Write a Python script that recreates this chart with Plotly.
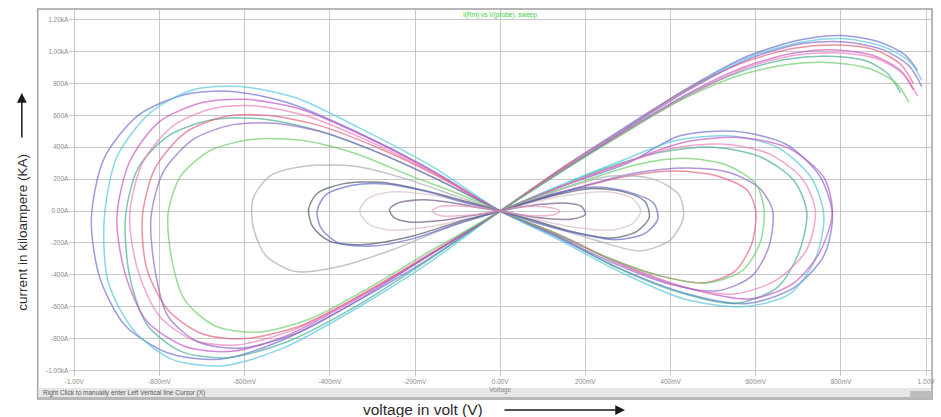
import plotly.graph_objects as go

# ---- measured traces: voltage (V) and current (kA) ----
# each large trace: upper-right arm -> origin -> left lobe -> origin -> right lobe
blue_v = [0.98, 0.95, 0.89, 0.80, 0.70, 0.58, 0.44, 0.29, 0.14, 0,
          -0.18, -0.36, -0.52, -0.66, -0.78, -0.88, -0.94, -0.96, -0.93, -0.85, -0.74, -0.63, -0.50, -0.34, -0.17, 0,
          0.13, 0.28, 0.44, 0.58, 0.69, 0.76, 0.78, 0.75, 0.67, 0.55, 0.42, 0.30, 0.14, 0]
blue_i = [0.88, 0.98, 1.06, 1.10, 1.07, 0.97, 0.77, 0.52, 0.26, 0,
          -0.32, -0.60, -0.82, -0.93, -0.89, -0.72, -0.42, -0.05, 0.33, 0.60, 0.73, 0.75, 0.68, 0.50, 0.27, 0,
          -0.16, -0.36, -0.52, -0.58, -0.48, -0.28, -0.02, 0.22, 0.42, 0.50, 0.47, 0.30, 0.15, 0]

cyan_v = [0.99, 0.96, 0.90, 0.81, 0.71, 0.59, 0.45, 0.30, 0.15, 0,
          -0.17, -0.35, -0.51, -0.65, -0.77, -0.86, -0.92, -0.93, -0.90, -0.82, -0.72, -0.61, -0.48, -0.33, -0.16, 0,
          0.13, 0.28, 0.43, 0.57, 0.68, 0.74, 0.76, 0.73, 0.65, 0.54, 0.41, 0.28, 0.13, 0]
cyan_i = [0.82, 0.94, 1.03, 1.08, 1.06, 0.97, 0.78, 0.53, 0.27, 0,
          -0.33, -0.63, -0.86, -0.97, -0.93, -0.75, -0.45, -0.06, 0.34, 0.62, 0.76, 0.78, 0.71, 0.52, 0.28, 0,
          -0.17, -0.38, -0.55, -0.60, -0.52, -0.30, -0.03, 0.21, 0.40, 0.47, 0.44, 0.31, 0.15, 0]

magenta_v = [0.97, 0.94, 0.88, 0.79, 0.69, 0.57, 0.43, 0.29, 0.14, 0,
             -0.18, -0.35, -0.50, -0.63, -0.74, -0.83, -0.88, -0.90, -0.87, -0.80, -0.70, -0.60, -0.47, -0.32, -0.16, 0,
             0.14, 0.29, 0.45, 0.59, 0.69, 0.75, 0.78, 0.76, 0.68, 0.57, 0.43, 0.29, 0.14, 0]
magenta_i = [0.76, 0.88, 0.97, 1.01, 0.99, 0.90, 0.72, 0.49, 0.25, 0,
             -0.30, -0.57, -0.78, -0.88, -0.85, -0.69, -0.40, -0.04, 0.31, 0.56, 0.68, 0.70, 0.64, 0.47, 0.25, 0,
             -0.15, -0.34, -0.49, -0.55, -0.45, -0.26, -0.01, 0.21, 0.39, 0.46, 0.43, 0.30, 0.15, 0]

pink_v = [0.98, 0.95, 0.89, 0.80, 0.70, 0.58, 0.44, 0.29, 0.14, 0,
          -0.18, -0.34, -0.49, -0.62, -0.72, -0.80, -0.85, -0.87, -0.84, -0.77, -0.68, -0.58, -0.46, -0.31, -0.15, 0,
          0.13, 0.27, 0.42, 0.55, 0.65, 0.72, 0.74, 0.71, 0.63, 0.52, 0.40, 0.27, 0.13, 0]
pink_i = [0.72, 0.85, 0.95, 0.99, 0.98, 0.90, 0.72, 0.49, 0.25, 0,
          -0.29, -0.55, -0.75, -0.84, -0.81, -0.66, -0.38, -0.03, 0.30, 0.53, 0.64, 0.66, 0.60, 0.44, 0.23, 0,
          -0.14, -0.32, -0.47, -0.52, -0.43, -0.24, 0.0, 0.20, 0.36, 0.42, 0.39, 0.28, 0.14, 0]

green_v = [0.96, 0.93, 0.87, 0.78, 0.68, 0.56, 0.42, 0.28, 0.14, 0,
           -0.17, -0.32, -0.45, -0.57, -0.67, -0.74, -0.77, -0.78, -0.75, -0.68, -0.58, -0.46, -0.34, -0.21, -0.10, 0,
           0.12, 0.25, 0.38, 0.49, 0.57, 0.61, 0.62, 0.60, 0.53, 0.43, 0.32, 0.21, 0.10, 0]
green_i = [0.68, 0.80, 0.89, 0.93, 0.92, 0.85, 0.69, 0.47, 0.24, 0,
           -0.26, -0.50, -0.68, -0.76, -0.72, -0.56, -0.32, -0.02, 0.22, 0.38, 0.45, 0.44, 0.36, 0.22, 0.11, 0,
           -0.13, -0.29, -0.41, -0.45, -0.37, -0.20, 0.0, 0.17, 0.29, 0.33, 0.29, 0.20, 0.10, 0]

red_v = [0.97, 0.94, 0.88, 0.79, 0.69, 0.57, 0.43, 0.29, 0.14, 0,
         -0.17, -0.33, -0.47, -0.60, -0.70, -0.78, -0.83, -0.84, -0.81, -0.74, -0.65, -0.55, -0.43, -0.29, -0.14, 0,
         0.12, 0.25, 0.38, 0.48, 0.55, 0.59, 0.60, 0.58, 0.51, 0.41, 0.30, 0.19, 0.09, 0]
red_i = [0.80, 0.92, 1.01, 1.04, 1.02, 0.93, 0.75, 0.51, 0.26, 0,
         -0.28, -0.53, -0.72, -0.80, -0.77, -0.62, -0.36, -0.03, 0.27, 0.49, 0.59, 0.60, 0.54, 0.40, 0.21, 0,
         -0.13, -0.29, -0.41, -0.45, -0.38, -0.21, 0.0, 0.13, 0.22, 0.25, 0.22, 0.15, 0.08, 0]

purple_v = [0.99, 0.96, 0.90, 0.81, 0.71, 0.59, 0.45, 0.30, 0.15, 0,
            -0.18, -0.34, -0.48, -0.61, -0.71, -0.78, -0.81, -0.82, -0.79, -0.72, -0.63, -0.53, -0.41, -0.28, -0.14, 0,
            0.12, 0.26, 0.40, 0.51, 0.59, 0.63, 0.64, 0.61, 0.54, 0.44, 0.32, 0.20, 0.10, 0]
purple_i = [0.78, 0.91, 1.01, 1.06, 1.05, 0.96, 0.77, 0.52, 0.26, 0,
            -0.30, -0.57, -0.77, -0.86, -0.82, -0.66, -0.38, -0.04, 0.25, 0.45, 0.54, 0.55, 0.49, 0.36, 0.19, 0,
            -0.14, -0.32, -0.46, -0.50, -0.41, -0.23, 0.0, 0.14, 0.24, 0.27, 0.24, 0.16, 0.08, 0]

teal_v = [0.94, 0.91, 0.86, 0.77, 0.67, 0.56, 0.42, 0.28, 0.14, 0,
          -0.17, -0.34, -0.50, -0.64, -0.75, -0.83, -0.87, -0.88, -0.85, -0.78, -0.68, -0.57, -0.45, -0.30, -0.15, 0,
          0.13, 0.27, 0.42, 0.55, 0.65, 0.70, 0.72, 0.69, 0.61, 0.50, 0.38, 0.25, 0.12, 0]
teal_i = [0.74, 0.86, 0.94, 0.97, 0.95, 0.87, 0.70, 0.48, 0.24, 0,
          -0.31, -0.60, -0.82, -0.92, -0.88, -0.71, -0.41, -0.04, 0.27, 0.47, 0.57, 0.58, 0.52, 0.38, 0.20, 0,
          -0.15, -0.35, -0.51, -0.58, -0.48, -0.27, -0.01, 0.19, 0.34, 0.40, 0.37, 0.27, 0.13, 0]

# smaller amplitude runs: left lobe then right lobe
gray_v = [0, -0.12, -0.25, -0.38, -0.48, -0.55, -0.58, -0.58, -0.54, -0.46, -0.34, -0.22, -0.10, 0,
          0.10, 0.22, 0.33, 0.40, 0.43, 0.42, 0.36, 0.26, 0.16, 0.07, 0]
gray_i = [0, -0.10, -0.24, -0.35, -0.38, -0.28, -0.10, 0.08, 0.22, 0.28, 0.28, 0.20, 0.09, 0,
          -0.08, -0.18, -0.25, -0.18, -0.04, 0.10, 0.20, 0.22, 0.15, 0.06, 0]

dark_v = [0, -0.10, -0.21, -0.32, -0.40, -0.44, -0.45, -0.43, -0.37, -0.28, -0.18, -0.08, 0,
          0.08, 0.17, 0.26, 0.32, 0.35, 0.34, 0.29, 0.21, 0.13, 0.06, 0]
dark_i = [0, -0.07, -0.16, -0.21, -0.19, -0.10, 0.01, 0.11, 0.17, 0.18, 0.13, 0.06, 0,
          -0.06, -0.13, -0.17, -0.13, -0.04, 0.06, 0.12, 0.14, 0.10, 0.05, 0]

navy_v = [0, -0.10, -0.20, -0.30, -0.38, -0.42, -0.43, -0.41, -0.35, -0.27, -0.17, -0.08, 0,
          0.08, 0.18, 0.27, 0.34, 0.37, 0.36, 0.30, 0.22, 0.13, 0.06, 0]
navy_i = [0, -0.08, -0.17, -0.22, -0.20, -0.11, 0.0, 0.10, 0.16, 0.17, 0.12, 0.05, 0,
          -0.07, -0.14, -0.18, -0.14, -0.05, 0.05, 0.12, 0.15, 0.11, 0.05, 0]

light_v = [0, -0.08, -0.17, -0.26, -0.31, -0.33, -0.31, -0.25, -0.16, -0.07, 0,
           0.08, 0.17, 0.26, 0.31, 0.33, 0.31, 0.25, 0.16, 0.07, 0]
light_i = [0, -0.05, -0.10, -0.12, -0.08, 0.0, 0.08, 0.12, 0.10, 0.05, 0,
           -0.05, -0.10, -0.12, -0.08, 0.0, 0.08, 0.12, 0.10, 0.05, 0]

plum_v = [0, -0.07, -0.14, -0.21, -0.25, -0.26, -0.24, -0.18, -0.11, -0.05, 0,
          0.06, 0.12, 0.17, 0.20, 0.19, 0.15, 0.09, 0.04, 0]
plum_i = [0, -0.03, -0.06, -0.07, -0.04, 0.01, 0.05, 0.07, 0.05, 0.02, 0,
          -0.03, -0.05, -0.05, -0.02, 0.03, 0.05, 0.04, 0.02, 0]

rose_v = [0, -0.05, -0.10, -0.14, -0.16, -0.14, -0.09, -0.04, 0,
          0.04, 0.09, 0.13, 0.14, 0.12, 0.08, 0.03, 0]
rose_i = [0, -0.02, -0.03, -0.03, 0.0, 0.03, 0.03, 0.02, 0,
          -0.02, -0.03, -0.02, 0.0, 0.02, 0.03, 0.02, 0]

# ---- axis ticks ----
x_ticks = [-1.0, -0.8, -0.6, -0.4, -0.2, 0.0, 0.2, 0.4, 0.6, 0.8, 1.0]
x_tick_labels = ["-1.00V", "-800mV", "-600mV", "-400mV", "-200mV", "0.00V<br>Voltage",
                 "200mV", "400mV", "600mV", "800mV", "1.00V"]
y_ticks = [1.2, 1.0, 0.8, 0.6, 0.4, 0.2, 0.0, -0.2, -0.4, -0.6, -0.8, -1.0]
y_tick_labels = ["1.20kA", "1.00kA", "800A", "600A", "400A", "200A", "0.00A",
                 "-200A", "-400A", "-600A", "-800A", "-1.00kA"]

traces = [
    (blue_v, blue_i, "#6c6cd4"),
    (cyan_v, cyan_i, "#52c6dc"),
    (teal_v, teal_i, "#44ac92"),
    (magenta_v, magenta_i, "#c454c4"),
    (pink_v, pink_i, "#f07ab8"),
    (red_v, red_i, "#e2607a"),
    (purple_v, purple_i, "#8e64c8"),
    (green_v, green_i, "#66cc66"),
    (gray_v, gray_i, "#a8a8b0"),
    (light_v, light_i, "#d8bcc8"),
    (dark_v, dark_i, "#4e5264"),
    (navy_v, navy_i, "#5a68c8"),
    (plum_v, plum_i, "#705484"),
    (rose_v, rose_i, "#e898bc"),
]

W, H = 941, 417
FONT = "Liberation Sans, Arial, sans-serif"


def px(x):
    return x / W


def py(y):
    return 1 - y / H


fig = go.Figure()
for v, i, c in traces:
    fig.add_trace(go.Scatter(
        x=v, y=i, mode="lines",
        line=dict(color=c, width=1.5, shape="spline", smoothing=0.8),
        opacity=0.68, hoverinfo="skip", showlegend=False,
    ))

fig.update_layout(
    width=W, height=H,
    margin=dict(l=0, r=0, t=0, b=0),
    paper_bgcolor="white", plot_bgcolor="white",
    font=dict(family=FONT),
    xaxis=dict(
        domain=[px(65), px(935)], range=[-1.0116, 1.0116],
        tickmode="array", tickvals=x_ticks, ticktext=x_tick_labels,
        tickfont=dict(size=6.5, color="#8a8a8a"),
        showgrid=True, gridcolor="#c8c8c8", gridwidth=1,
        zeroline=False, showline=False, ticks="",
    ),
    yaxis=dict(
        domain=[py(376), py(10)], range=[-1.0345, 1.2602],
        tickmode="array", tickvals=y_ticks, ticktext=y_tick_labels,
        tickfont=dict(size=6.5, color="#8a8a8a"),
        showgrid=True, gridcolor="#c8c8c8", gridwidth=1,
        zeroline=False, showline=False, ticks="",
    ),
)

# scope window frame and status bar
fig.add_shape(type="rect", xref="paper", yref="paper",
              x0=px(33), x1=px(936), y0=py(399), y1=py(9),
              line=dict(color="#a0a0a0", width=1.5), fillcolor="rgba(0,0,0,0)", layer="below")
fig.add_shape(type="rect", xref="paper", yref="paper",
              x0=px(34), x1=px(935), y0=py(399), y1=py(388),
              line=dict(width=0), fillcolor="#e6e6e6", layer="below")
fig.add_shape(type="line", xref="paper", yref="paper",
              x0=px(34), x1=px(935), y0=py(398), y1=py(398),
              line=dict(color="#a8a8a8", width=1.5))
fig.add_shape(type="rect", xref="paper", yref="paper",
              x0=px(914), x1=px(935), y0=py(398), y1=py(391),
              line=dict(width=0), fillcolor="#bdbdbd")

fig.add_annotation(xref="paper", yref="paper", x=px(36), y=py(393),
                   xanchor="left", yanchor="middle", showarrow=False,
                   text="Right Click to manually enter Left Vertical line Cursor (X)",
                   font=dict(size=6.5, color="#5a5a5a"))

# trace caption
fig.add_annotation(xref="paper", yref="paper", x=px(500), y=py(15),
                   xanchor="center", yanchor="middle", showarrow=False,
                   text="I(Rm) vs V(probe), sweep",
                   font=dict(size=6.5, color="#3ccf3c"))

# axis titles with arrows
fig.add_annotation(xref="paper", yref="paper", x=px(422), y=py(409),
                   xanchor="center", yanchor="middle", showarrow=False,
                   text="voltage in volt (V)",
                   font=dict(size=15.5, color="#2c2c2c"))
fig.add_annotation(xref="paper", yref="paper", x=px(626), y=py(410),
                   ax=-122, ay=0, text="", showarrow=True,
                   arrowhead=2, arrowsize=1.3, arrowwidth=1.5, arrowcolor="#1a1a1a")

fig.add_annotation(xref="paper", yref="paper", x=px(17), y=py(232),
                   xanchor="center", yanchor="middle", showarrow=False, textangle=-90,
                   text="current in kiloampere (KA)",
                   font=dict(size=13.5, color="#2c2c2c"))
fig.add_annotation(xref="paper", yref="paper", x=px(17), y=py(93),
                   ax=0, ay=46, text="", showarrow=True,
                   arrowhead=2, arrowsize=1.3, arrowwidth=1.5, arrowcolor="#1a1a1a")

fig.write_html("out.html")
